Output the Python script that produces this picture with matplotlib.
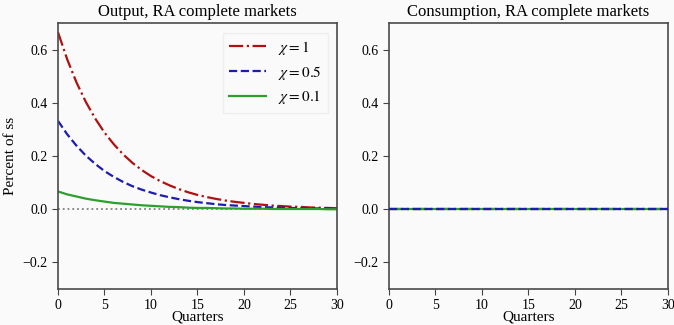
import numpy as np
import matplotlib
matplotlib.use("Agg")
import matplotlib.pyplot as plt

# values (percent of steady state)
quarters = list(range(31))
output_chi1 = [0.667, 0.564, 0.477, 0.404, 0.342, 0.289, 0.245, 0.207, 0.175, 0.148,
               0.125, 0.106, 0.090, 0.076, 0.064, 0.054, 0.046, 0.039, 0.033, 0.028,
               0.024, 0.020, 0.017, 0.014, 0.012, 0.010, 0.009, 0.007, 0.006, 0.005, 0.004]
output_chi05 = [0.333, 0.282, 0.239, 0.202, 0.171, 0.144, 0.122, 0.103, 0.087, 0.074,
                0.063, 0.053, 0.045, 0.038, 0.032, 0.027, 0.023, 0.019, 0.016, 0.014,
                0.012, 0.010, 0.008, 0.007, 0.006, 0.005, 0.004, 0.004, 0.003, 0.003, 0.002]
output_chi01 = [0.067, 0.056, 0.048, 0.040, 0.034, 0.029, 0.024, 0.021, 0.018, 0.015,
                0.013, 0.011, 0.009, 0.008, 0.006, 0.005, 0.005, 0.004, 0.003, 0.003,
                0.002, 0.002, 0.002, 0.001, 0.001, 0.001, 0.001, 0.001, 0.001, 0.000, 0.000]
cons_chi1 = [0.0] * 31
cons_chi05 = [0.0] * 31
cons_chi01 = [0.0] * 31

labels = [r"$\chi = 1$", r"$\chi = 0.5$", r"$\chi = 0.1$"]
colors = ["#b01010", "#1c1cb0", "#2ca02c"]
styles = ["-.", "--", "-"]

plt.rcParams["font.family"] = ["Liberation Serif", "DejaVu Serif"]
plt.rcParams["mathtext.fontset"] = "stix"

bg = "#fafafa"
fig = plt.figure(figsize=(6.74, 3.25), dpi=100, facecolor=bg)
ax1 = fig.add_axes([0.086, 0.111, 0.414, 0.817])
ax2 = fig.add_axes([0.577, 0.111, 0.414, 0.817])

panels = [
    (ax1, "Output, RA complete markets", [output_chi1, output_chi05, output_chi01], [2, 2, 2]),
    (ax2, "Consumption, RA complete markets", [cons_chi1, cons_chi05, cons_chi01], [2, 4, 3]),
]

for ax, title, series, zs in panels:
    ax.set_facecolor(bg)
    if ax is ax1:
        ax.axhline(0, color="gray", linestyle=":", linewidth=1.3)
    for vals, lab, c, ls, z in zip(series, labels, colors, styles, zs):
        ax.plot(quarters, vals, color=c, linestyle=ls, linewidth=1.6, label=lab, zorder=z)
    ax.set_xlim(0, 30)
    ax.set_ylim(-0.3, 0.7)
    ax.set_xticks([0, 5, 10, 15, 20, 25, 30])
    ax.set_yticks([-0.2, 0.0, 0.2, 0.4, 0.6])
    ax.set_title(title, fontsize=12, pad=5)
    ax.set_xlabel("Quarters", fontsize=11, labelpad=-1)
    ax.tick_params(labelsize=10, color="#444444", length=4)
    for s in ax.spines.values():
        s.set_color("#4a4a4a")
        s.set_linewidth(1.2)

ax1.set_ylabel("Percent of ss", fontsize=11)
ax1.legend(loc="upper right", fontsize=11, frameon=True, facecolor=bg,
           edgecolor="#ececec", fancybox=False, handlelength=2.4,
           borderaxespad=0.6, labelspacing=0.45)

fig.savefig("out.png", dpi=100, facecolor=bg)
